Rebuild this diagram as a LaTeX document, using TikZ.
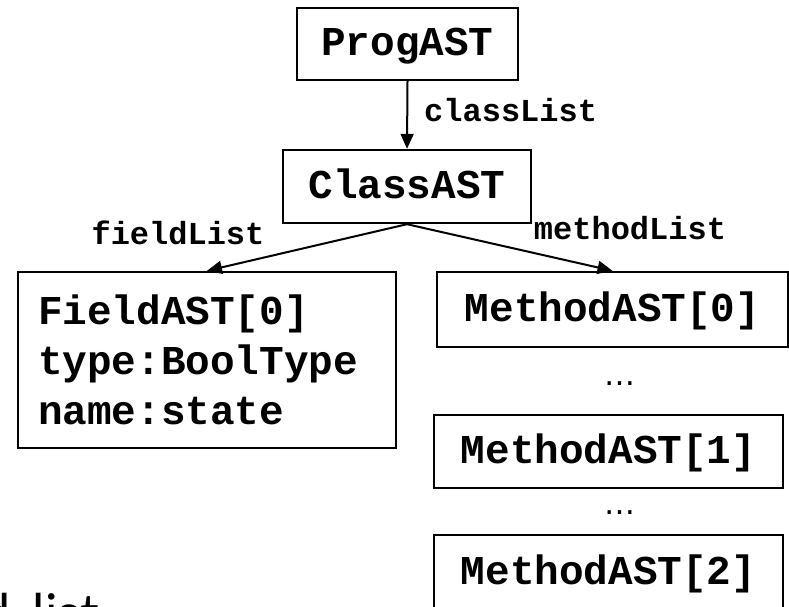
\documentclass[tikz,border=0pt]{standalone}
\usepackage{fontspec}
\setmonofont{Liberation Mono}
\newfontfamily\labelsans{Lato}
\newfontfamily\dotsans{DejaVu Sans}
\usetikzlibrary{arrows.meta}
\begin{document}
\begin{tikzpicture}[x=1pt,y=-1pt,
  astbox/.style={draw, line width=2.4pt, inner sep=0pt,
    font=\ttfamily\bfseries\fontsize{41}{50}\selectfont,
    text height=24pt, text depth=0pt},
  fieldbox/.style={draw, line width=2.4pt, inner sep=0pt, align=left,
    font=\ttfamily\bfseries\fontsize{41}{50}\selectfont},
  link/.style={line width=2pt, -{Triangle[length=15pt,width=13pt]}},
  linklabel/.style={font=\ttfamily\bfseries\fontsize{32}{38}\selectfont, inner sep=0pt,
    text height=19pt, text depth=0pt},
  gapdots/.style={font=\dotsans\fontsize{31}{36}\selectfont, inner sep=0pt, anchor=base},
  sidetext/.style={font=\labelsans\fontsize{52}{60}\selectfont, inner sep=0pt}]
\useasboundingbox (0,0) rectangle (789,607);

% program root and the class below it
\node[astbox, minimum width=221pt, minimum height=72pt] (prog) at (407.5,44) {ProgAST};
\node[astbox, minimum width=248pt, minimum height=73pt] (class) at (407,186.5) {ClassAST};

% field and method children
\node[fieldbox, minimum width=378pt, minimum height=176pt, text width=338pt] (field) at (207,360)
  {FieldAST[0]\\type:BoolType\\name:state};
\node[astbox, minimum width=351pt, minimum height=75pt] (m0) at (612.5,309.5) {MethodAST[0]};
\node[astbox, minimum width=349pt, minimum height=73pt] (m1) at (608.5,451.5) {MethodAST[1]};
\node[astbox, minimum width=349pt, minimum height=74pt] (m2) at (608.5,572) {MethodAST[2]};

\node[gapdots] (dots1) at (620,385) {…};
\node[gapdots] (dots2) at (620,514) {…};

% links
\draw[link] (prog.south) -- (class.north);
\draw[link] (class.south) -- (field.north);
\draw[link] (class.south) -- (m0.north);

\node[linklabel, anchor=west] (lclass) at (424,112) {classList};
\node[linklabel] (lfield) at (178,235) {fieldList};
\node[linklabel] (lmethod) at (630,230) {methodList};

\node[sidetext, anchor=base east] (side) at (99,631) {d\hspace{0.42em}list};
\end{tikzpicture}
\end{document}
